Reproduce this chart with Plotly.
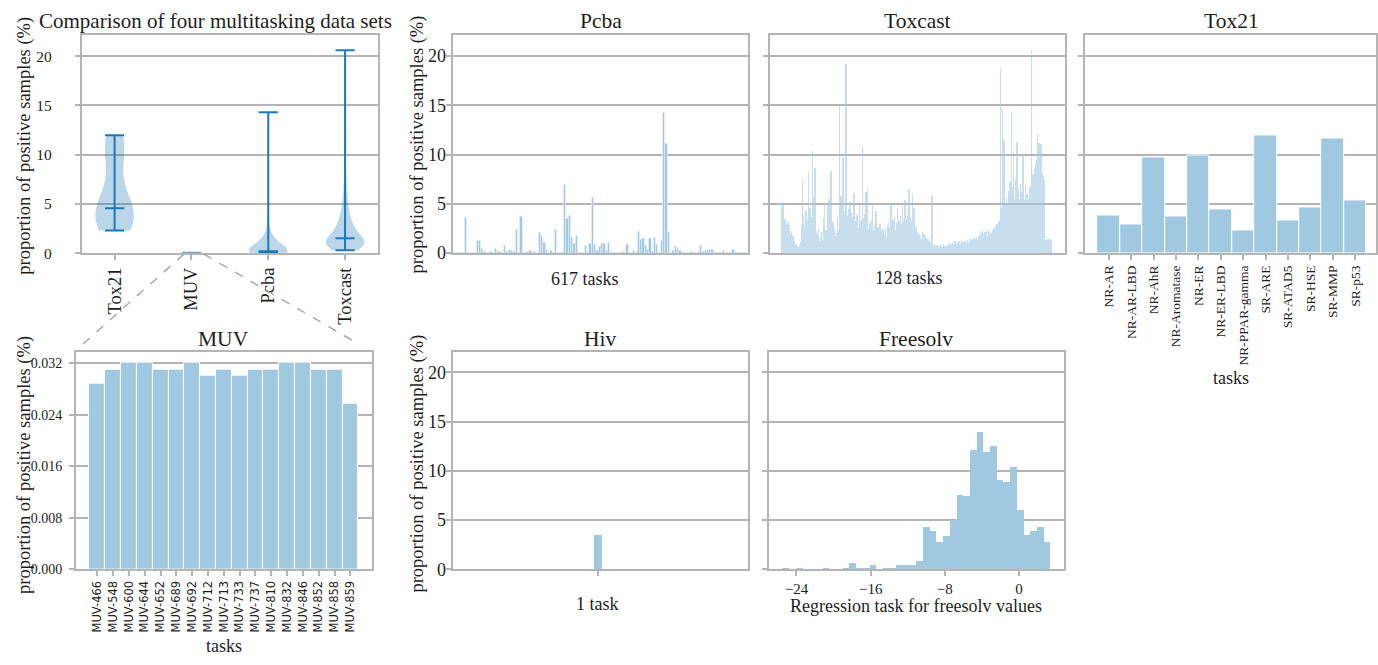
import numpy as np
import plotly.graph_objects as go

W, H = 1378, 665

# ---------------- data ----------------
violin_names = ["Tox21", "MUV", "Pcba", "Toxcast"]

tox21_tasks = ["NR-AR", "NR-AR-LBD", "NR-AhR", "NR-Aromatase", "NR-ER", "NR-ER-LBD",
               "NR-PPAR-gamma", "SR-ARE", "SR-ATAD5", "SR-HSE", "SR-MMP", "SR-p53"]
tox21_values = [3.83, 2.9, 9.73, 3.77, 9.93, 4.43, 2.3, 11.97, 3.3, 4.67, 11.67, 5.33]

muv_tasks = ["MUV-466", "MUV-548", "MUV-600", "MUV-644", "MUV-652", "MUV-689", "MUV-692",
             "MUV-712", "MUV-713", "MUV-733", "MUV-737", "MUV-810", "MUV-832", "MUV-846",
             "MUV-852", "MUV-858", "MUV-859"]
muv_values = [0.0289, 0.0310, 0.0321, 0.0321, 0.0310, 0.0310, 0.0321, 0.0300, 0.0310,
              0.0300, 0.0310, 0.0310, 0.0321, 0.0321, 0.0310, 0.0310, 0.0257]

pcba_values = [
    0.05, 0.05, 0.05, 0.05, 0.05, 3.6, 0.05, 0.05, 0.05, 0.1,
    1.25, 1.25, 0.5, 0.2, 0.1, 0.1, 0.15, 0.1, 0.5, 0.2,
    0.15, 0.1, 0.8, 0.2, 0.35, 0.3, 0.15, 2.4, 0.1, 3.75,
    0.05, 0.1, 0.2, 0.3, 0.1, 0.15, 0.1, 2.05, 1.75, 1.05,
    0.4, 0.1, 0.3, 0.1, 2.45, 0.1, 0.05, 0.1, 6.95, 3.55,
    3.8, 1.65, 0.95, 1.75, 0.1, 0.05, 0.1, 0.8, 0.1, 1.0,
    5.7, 0.85, 0.3, 0.7, 0.95, 1.0, 0.3, 1.1, 0.1, 0.05,
    0.1, 0.05, 0.1, 0.2, 0.1, 0.85, 0.1, 0.1, 0.3, 0.1,
    2.2, 1.4, 1.45, 0.8, 0.35, 1.45, 0.2, 1.6, 0.9, 0.1,
    1.3, 14.3, 11.1, 2.25, 0.1, 0.25, 0.7, 0.45, 0.3, 0.1,
    0.1, 0.05, 0.1, 0.15, 0.05, 0.1, 0.2, 0.75, 0.2, 0.3,
    0.4, 0.4, 0.4, 0.05, 0.05, 0.05, 0.1, 0.3, 0.05, 0.05,
    0.1, 0.4, 0.05, 0.05, 0.05, 0.05, 0.05, 0.05,
]

toxcast_values = [
    4.8, 1.2, 3.0, 0.8, 5.1, 2.2, 0.9, 3.4, 0.6, 2.9, 1.8, 0.7, 2.6, 1.1, 3.1, 0.5, 2.4, 1.3, 2.8, 0.9,
    1.9, 0.6, 2.2, 1.4, 0.4, 1.7, 0.8, 0.5, 1.2, 0.3, 0.6, 0.4, 0.9, 0.3, 0.5, 0.7, 0.3, 0.4, 0.6, 0.3,
    0.5, 0.8, 0.4, 1.1, 0.6, 0.3, 2.8, 7.3, 1.2, 0.6, 3.9, 1.5, 0.8, 2.6, 1.1, 4.2, 0.9, 1.8, 3.3, 1.0,
    2.1, 8.2, 1.4, 3.0, 4.5, 1.2, 2.4, 0.9, 3.6, 1.3, 10.3, 2.0, 5.7, 1.1, 2.7, 0.8, 8.6, 1.6, 2.2, 0.7,
    1.4, 0.6, 1.9, 0.8, 2.5, 0.5, 1.2, 0.9, 1.7, 0.6, 2.1, 0.8, 1.3, 0.5, 1.0, 3.5, 1.2, 0.7, 4.8, 1.5,
    0.9, 2.3, 1.1, 0.6, 5.0, 1.4, 2.6, 0.8, 5.5, 1.9, 1.0, 2.8, 8.3, 1.3, 0.7, 2.2, 1.0, 3.1, 0.6, 1.5,
    2.5, 0.8, 1.7, 0.5, 1.2, 2.0, 0.9, 3.7, 1.4, 0.6, 2.3, 1.8, 14.9, 2.9, 1.1, 5.8, 2.4, 0.9, 3.2, 1.6,
    9.7, 2.0, 1.3, 4.1, 0.8, 2.7, 3.4, 19.2, 11.2, 2.6, 1.5, 3.8, 2.1, 4.4, 1.2, 3.0, 5.1, 1.9, 2.6, 4.0,
    1.0, 2.3, 1.5, 3.6, 0.8, 6.1, 1.8, 2.6, 0.9, 3.2, 3.9, 0.8, 1.9, 3.7, 1.2, 2.5, 0.9, 4.8, 1.4, 2.1,
    0.9, 3.3, 1.7, 2.6, 10.8, 1.1, 3.5, 0.8, 2.2, 1.6, 3.9, 0.9, 6.2, 2.0, 1.3, 3.1, 6.5, 1.0, 2.4, 0.8,
    1.8, 3.0, 0.9, 2.5, 1.2, 3.4, 1.0, 5.0, 1.6, 2.3, 0.8, 1.9, 2.8, 0.9, 1.4, 4.2, 1.0, 2.0, 0.7, 1.5,
    2.6, 0.9, 1.7, 0.7, 2.9, 1.1, 0.8, 2.2, 0.6, 1.5, 1.0, 2.4, 0.7, 1.2, 0.5, 1.9, 0.9, 2.6, 0.8, 1.6,
    1.0, 2.8, 1.3, 0.8, 3.1, 1.7, 0.9, 2.5, 1.2, 5.0, 1.9, 0.8, 2.7, 1.4, 3.3, 1.0, 2.1, 1.5, 3.6, 1.1,
    2.3, 1.4, 3.0, 0.9, 4.5, 1.8, 2.6, 1.1, 3.2, 2.0, 1.3, 3.8, 2.2, 1.0, 2.9, 1.5, 5.0, 2.4, 1.2, 3.1,
    1.8, 5.3, 2.5, 1.3, 3.4, 2.1, 1.6, 3.9, 2.6, 1.4, 3.0, 6.5, 2.8, 1.7, 3.6, 2.3, 1.3, 3.2, 6.0, 1.9,
    1.5, 2.9, 4.5, 1.1, 2.4, 0.9, 1.8, 2.6, 0.8, 1.5, 2.1, 0.7, 1.2, 1.9, 0.6, 1.0, 1.6, 0.6, 0.9, 1.4,
    1.0, 1.6, 2.1, 0.9, 1.5, 1.9, 0.8, 1.3, 1.7, 0.7, 1.2, 1.5, 0.6, 1.1, 1.4, 0.6, 0.9, 1.2, 0.5, 0.8,
    1.1, 0.6, 0.9, 5.8, 0.7, 0.5, 0.8, 0.4, 0.6, 0.9, 0.4, 0.7, 0.5, 0.3, 0.6, 0.8, 0.4, 0.5, 0.3, 0.6,
    0.4, 0.7, 0.3, 0.5, 0.8, 0.4, 0.6, 0.3, 0.5, 0.9, 0.4, 0.6, 0.3, 0.7, 0.5, 0.4, 0.8, 0.3, 0.6, 0.5,
    0.7, 0.4, 0.9, 0.5, 0.6, 1.0, 0.4, 0.7, 0.5, 0.8, 1.1, 0.5, 0.6, 0.9, 0.4, 0.7, 1.2, 0.5, 0.8, 0.6,
    0.9, 0.5, 1.0, 0.7, 0.6, 1.2, 0.5, 0.8, 1.0, 0.6, 0.9, 1.3, 0.7, 0.5, 1.1, 0.8, 0.6, 1.0, 0.7, 1.2,
    0.8, 0.6, 1.1, 0.9, 0.7, 1.3, 0.8, 1.0, 0.6, 1.2, 0.9, 0.7, 1.4, 0.8, 1.1, 0.9, 1.3, 0.7, 1.0, 1.5,
    0.9, 1.2, 1.0, 1.4, 0.8, 1.6, 1.1, 1.3, 0.9, 1.7, 1.2, 1.5, 1.0, 1.8, 1.3, 2.0, 1.1, 1.6, 2.2, 1.4,
    1.2, 1.9, 0.9, 1.6, 2.1, 1.0, 1.8, 0.8, 2.3, 1.3, 1.7, 1.0, 2.0, 1.4, 2.2, 1.1, 1.9, 1.5, 1.0, 2.1,
    1.6, 1.2, 2.3, 1.8, 1.3, 2.5, 1.7, 1.1, 2.2, 2.7, 1.4, 1.9, 2.9, 1.5, 2.4, 3.1, 1.7, 2.6, 1.9, 3.3,
    18.8, 3.2, 4.5, 2.8, 3.6, 14.6, 4.1, 2.9, 11.4, 3.5, 4.8, 2.6, 3.9, 5.6, 3.1, 5.0, 4.2, 2.7, 6.3, 3.8,
    4.6, 3.3, 7.2, 4.0, 3.5, 14.4, 5.1, 3.7, 6.8, 4.3, 10.3, 3.9, 5.5, 4.4, 7.5, 3.6, 6.1, 4.8, 11.2, 5.2,
    4.0, 6.6, 3.8, 5.4, 4.7, 7.0, 3.9, 6.2, 4.5, 5.8, 3.7, 10.0, 4.9, 6.4, 4.1, 5.3, 3.8, 6.9, 4.4, 5.0,
    6.0, 3.6, 4.8, 3.2, 5.5, 3.9, 4.3, 6.7, 3.5, 4.9, 5.7, 20.6, 4.6, 6.3, 8.0, 5.2, 7.1, 6.0, 8.6, 7.4,
    9.1, 8.2, 9.4, 8.7, 12.1, 9.3, 8.5, 9.0, 11.1, 8.8, 9.5, 8.4, 11.0, 9.2, 8.6, 7.5, 8.1, 7.2, 7.8, 6.9,
    7.4, 1.3, 1.1, 1.4, 1.0, 1.2, 1.3, 1.1, 1.4, 1.0, 1.2, 1.3, 1.1, 1.4, 1.2, 1.0, 1.3,
]

hiv_values = [3.51]

freesolv_range = [-25.47, 3.43]
freesolv_hist = [0.216, 0, 0.216, 0, 0, 0, 0.216, 0, 0, 0.216,
                 0.65, 0.216, 0.216, 0.43, 0, 0.216, 0.216, 0.43, 0.43, 0.43,
                 0.86, 4.3, 3.9, 2.85, 3.45, 5.0, 7.6, 7.45, 12.15, 14.0,
                 11.95, 12.55, 9.1, 8.9, 10.45, 6.05, 3.5, 3.9, 4.35, 2.8]

y_ticks_pct = [0, 5, 10, 15, 20]
muv_ticks = [0.0, 0.008, 0.016, 0.024, 0.032]
freesolv_ticks = [-24, -16, -8, 0]

# ---------------- style ----------------
SERIF = "Liberation Serif, Times New Roman, serif"
SANS = "DejaVu Sans, sans-serif"
GREY = "#b4b4b4"
TXT = "#1e1e1e"
BAR = "rgb(160,201,225)"
C0 = "#1f77b4"


def xd(l, r):
    return [l / W, r / W]


def yd(t, b):
    return [1 - b / H, 1 - t / H]


def yaxis(top, bot, rng, tickvals, labels=True, standoff=0, fmt=None, anchor=None, size=15):
    d = dict(domain=yd(top, bot), range=rng, tickvals=tickvals, showticklabels=labels,
             showline=True, mirror=True, linecolor=GREY, linewidth=2,
             showgrid=True, gridcolor=GREY, gridwidth=2, zeroline=False,
             ticks="outside", ticklen=5, tickwidth=1.5, tickcolor=GREY,
             tickfont=dict(family=SERIF, size=size, color=TXT),
             ticklabelstandoff=standoff, fixedrange=True, anchor=anchor)
    if fmt:
        d["tickformat"] = fmt
    return d


def xaxis(l, r, rng, anchor, tickvals=None, ticktext=None, ticks="outside",
          font=None, angle=None):
    d = dict(domain=xd(l, r), range=rng, anchor=anchor, showline=True, mirror=True,
             linecolor=GREY, linewidth=2, showgrid=False, zeroline=False,
             ticks=ticks, ticklen=5, tickwidth=1.5, tickcolor=GREY, fixedrange=True)
    if tickvals is None:
        d["showticklabels"] = False
        d["tickvals"] = []
    else:
        d["tickvals"] = tickvals
        if ticktext is not None:
            d["ticktext"] = ticktext
            d["tickmode"] = "array"
    if font:
        d["tickfont"] = font
    if angle is not None:
        d["tickangle"] = angle
    return d


fig = go.Figure()

# ---------------- violin panel ----------------
violin_data = [tox21_values, muv_values, pcba_values, toxcast_values]
for k, (name, data) in enumerate(zip(violin_names, violin_data)):
    arr = np.asarray(data, dtype=float)
    bw = arr.std(ddof=1) * len(arr) ** (-1 / 5)
    fig.add_trace(go.Violin(y=arr, x0=k + 1, width=0.5, bandwidth=bw, spanmode="hard",
                            fillcolor="rgba(31,119,180,0.3)", line=dict(width=0, color="rgba(0,0,0,0)"),
                            points=False, box_visible=False, meanline_visible=False,
                            showlegend=False, xaxis="x", yaxis="y", hoverinfo="skip"))
for k, data in enumerate(violin_data):
    arr = np.asarray(data, dtype=float)
    p = k + 1
    lo, hi, med = arr.min(), arr.max(), np.median(arr)
    lx = [p, p, None]
    ly = [lo, hi, None]
    for v in (lo, hi, med):
        lx += [p - 0.125, p + 0.125, None]
        ly += [v, v, None]
    # a set whose whole spread is a fraction of a pixel is drawn faint, as in the source
    tiny = (hi - lo) < 0.05
    col = "rgba(31,119,180,0.3)" if tiny else C0
    fig.add_trace(go.Scatter(x=lx, y=ly, mode="lines", line=dict(color=col, width=2),
                             showlegend=False, xaxis="x", yaxis="y", hoverinfo="skip"))

# ---------------- Pcba ----------------
fig.add_trace(go.Bar(x=np.arange(len(pcba_values)), y=pcba_values, width=1,
                     marker=dict(color=BAR, line=dict(color="white", width=0.4)),
                     showlegend=False, xaxis="x2", yaxis="y2"))
# ---------------- Toxcast ----------------
fig.add_trace(go.Bar(x=np.arange(len(toxcast_values)), y=toxcast_values, width=1,
                     marker=dict(color=BAR, line=dict(width=0)), opacity=0.6,
                     showlegend=False, xaxis="x3", yaxis="y3"))
# ---------------- Tox21 ----------------
fig.add_trace(go.Bar(x=np.arange(len(tox21_values)), y=tox21_values, width=1,
                     marker=dict(color=BAR, line=dict(color="white", width=1)),
                     showlegend=False, xaxis="x4", yaxis="y4"))
# ---------------- MUV ----------------
fig.add_trace(go.Bar(x=np.arange(len(muv_values)), y=muv_values, width=1,
                     marker=dict(color=BAR, line=dict(color="white", width=1)),
                     showlegend=False, xaxis="x5", yaxis="y5"))
# ---------------- Hiv ----------------
fig.add_trace(go.Bar(x=[0], y=hiv_values, width=1,
                     marker=dict(color=BAR, line=dict(width=0)),
                     showlegend=False, xaxis="x6", yaxis="y6"))
# ---------------- Freesolv ----------------
edges = np.linspace(freesolv_range[0], freesolv_range[1], len(freesolv_hist) + 1)
centers = (edges[:-1] + edges[1:]) / 2
fig.add_trace(go.Bar(x=centers, y=freesolv_hist, width=edges[1] - edges[0],
                     marker=dict(color=BAR, line=dict(width=0)),
                     showlegend=False, xaxis="x7", yaxis="y7"))

R = [0, 22.1]
n_tox = len(toxcast_values)
n_pc = len(pcba_values)
fig.update_layout(
    width=W, height=H, margin=dict(l=0, r=0, t=0, b=0),
    paper_bgcolor="white", plot_bgcolor="white", bargap=0, showlegend=False,
    violinmode="overlay",
    xaxis=xaxis(82, 378, [0.575, 4.425], "y", tickvals=[1, 2, 3, 4], ticktext=violin_names,
                font=dict(family=SERIF, size=18.5, color=TXT), angle=-90),
    yaxis=yaxis(36, 257, R, y_ticks_pct, True, 20, anchor="x", size=15.5),
    xaxis2=xaxis(453, 749, [-0.7, n_pc - 0.3], "y2", ticks=""),
    yaxis2=yaxis(36, 257, R, y_ticks_pct, True, -4, anchor="x2", size=18),
    xaxis3=xaxis(771, 1066, [-27.2, n_tox - 1 + 30.8], "y3", ticks=""),
    yaxis3=yaxis(36, 257, R, y_ticks_pct, False, anchor="x3"),
    xaxis4=xaxis(1086, 1377, [-1.05, len(tox21_values) - 0.07], "y4",
                 tickvals=list(range(len(tox21_tasks))), ticktext=tox21_tasks,
                 font=dict(family=SERIF, size=13.5, color=TXT), angle=-90),
    yaxis4=yaxis(36, 257, R, y_ticks_pct, False, anchor="x4"),
    xaxis5=xaxis(76, 372, [-1.35, len(muv_values) + 0.35], "y5",
                 tickvals=list(range(len(muv_tasks))), ticktext=muv_tasks,
                 font=dict(family=SANS, size=11.5, color=TXT), angle=-90),
    yaxis5=yaxis(357, 578, [0, 0.0338], muv_ticks, True, 4, fmt=".3f", anchor="x5", size=14),
    xaxis6=xaxis(453, 749, [-18.125, 18.875], "y6", tickvals=[0], ticktext=[""]),
    yaxis6=yaxis(357, 578, R, y_ticks_pct, True, -4, anchor="x6", size=18),
    xaxis7=xaxis(770, 1065, [-26.915, 4.875], "y7", tickvals=freesolv_ticks,
                 ticktext=["\u221224", "\u221216", "\u22128", "0"],
                 font=dict(family=SERIF, size=15, color=TXT)),
    yaxis7=yaxis(357, 578, R, y_ticks_pct, False, anchor="x7"),
)


def ann(text, x, y, size, angle=0, family=SERIF):
    fig.add_annotation(text=text, x=x / W, y=1 - y / H, xref="paper", yref="paper",
                       xanchor="center", yanchor="middle", showarrow=False, textangle=angle,
                       font=dict(family=family, size=size, color=TXT))


ann("Comparison of four multitasking data sets", 216, 21, 21)
ann("Pcba", 601, 21, 21.5)
ann("Toxcast", 918, 21, 21.5)
ann("Tox21", 1232, 21, 21.5)
ann("MUV", 224, 344, 21.5)
ann("Hiv", 601, 344, 21.5)
ann("Freesolv", 917, 344, 21.5)

ylab = "proportion of positive samples (%)"
ann(ylab, 25, 148, 18.5, -90)
ann(ylab, 418, 147, 18.5, -90)
ann(ylab, 25, 472, 18.5, -90)
ann(ylab, 418, 471, 18.5, -90)

ann("617 tasks", 585, 283, 18)
ann("128 tasks", 910, 282, 18)
ann("tasks", 1232, 384, 18)
ann("tasks", 224, 656, 18)
ann("1 task", 598, 613, 18)
ann("Regression task for freesolv values", 917, 615, 18)

# dashed zoom connectors from the MUV violin to the MUV panel
for (x0, y0, x1, y1) in [(184, 258, 80, 352), (204, 258, 355, 347)]:
    fig.add_shape(type="line", xref="paper", yref="paper",
                  x0=x0 / W, y0=1 - y0 / H, x1=x1 / W, y1=1 - y1 / H,
                  line=dict(color="#a8a8a8", width=1.5, dash="dash"))

fig.write_html("out.html")
